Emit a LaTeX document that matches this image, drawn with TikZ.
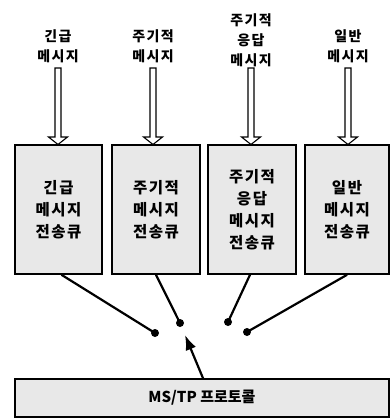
\documentclass[tikz,border=0pt]{standalone}
\usepackage{fontspec}
\newfontfamily\kr[LetterSpace=10]{Noto Sans CJK KR}
\newfontfamily\krp{Noto Sans CJK KR}
\usetikzlibrary{arrows.meta,calc}
\begin{document}
\begin{tikzpicture}[x=1pt,y=-1pt,
  qbox/.style={draw=black,line width=1.6pt,fill=black!9,minimum height=129pt,inner sep=0pt,align=center,font=\kr\bfseries\fontsize{15.5}{22}\selectfont},
  toplabel/.style={anchor=south,align=center,inner sep=0pt,font=\kr\bfseries\fontsize{14}{20}\selectfont},
  hollow/.style={draw=black,line width=1.1pt,fill=white,line join=miter},
  wire/.style={line width=2.2pt,black},
  dotn/.style={circle,fill=black,inner sep=0pt,minimum size=8pt}]
\useasboundingbox (0,0) rectangle (390,419);
\fill[white] (0,0) rectangle (390,419);
% queue boxes
\node[qbox,minimum width=87pt] (box1) at (58.5,209.5) {긴급\\메시지\\전송큐};
\node[qbox,minimum width=88pt] (box2) at (156,209.5) {주기적\\메시지\\전송큐};
\node[qbox,minimum width=88pt] (box3) at (252,209.5) {주기적\\응답\\메시지\\전송큐};
\node[qbox,minimum width=84pt] (box4) at (347,209.5) {일반\\메시지\\전송큐};
% protocol box
\node[draw=black,line width=1.6pt,fill=black!9,minimum width=374pt,minimum height=38pt,inner sep=0pt,font=\krp\bfseries\fontsize{15}{16}\selectfont] (prot) at (202,398) {MS/TP 프로토콜};
% top labels
\node[toplabel] (lab1) at (58,63) {긴급\\메시지};
\node[toplabel] (lab2) at (153,63) {주기적\\메시지};
\node[toplabel] (lab3) at (251,67) {주기적\\응답\\메시지};
\node[toplabel] (lab4) at (348,63) {일반\\메시지};
% hollow arrows
\foreach \i/\cx in {1/58,2/153,3/251,4/348}{
  \draw[hollow] (\cx-3,68) -- (\cx+3,68) -- (\cx+3,137) -- (\cx+9.5,137) -- (\cx,144.5) -- (\cx-9.5,137) -- (\cx-3,137) -- cycle;
}
% dots
\node[dotn] (d1) at (155,333) {};
\node[dotn] (d2) at (180,323) {};
\node[dotn] (d3) at (228,322) {};
\node[dotn] (d4) at (247,332) {};
\draw[wire] ($(box1.south)+(3,0)$) -- (d1.center);
\draw[wire] (box2.south) -- (d2.center);
\draw[wire] ($(box3.south)+(-2,0)$) -- (d3.center);
\draw[wire] (box4.south) -- (d4.center);
% switch arrow
\coordinate (tipP) at (185,335);
\draw[line width=2.2pt,-{Latex[length=15pt,width=11pt]}] (prot.north) ++(1,0) -- (tipP);
\end{tikzpicture}
\end{document}
